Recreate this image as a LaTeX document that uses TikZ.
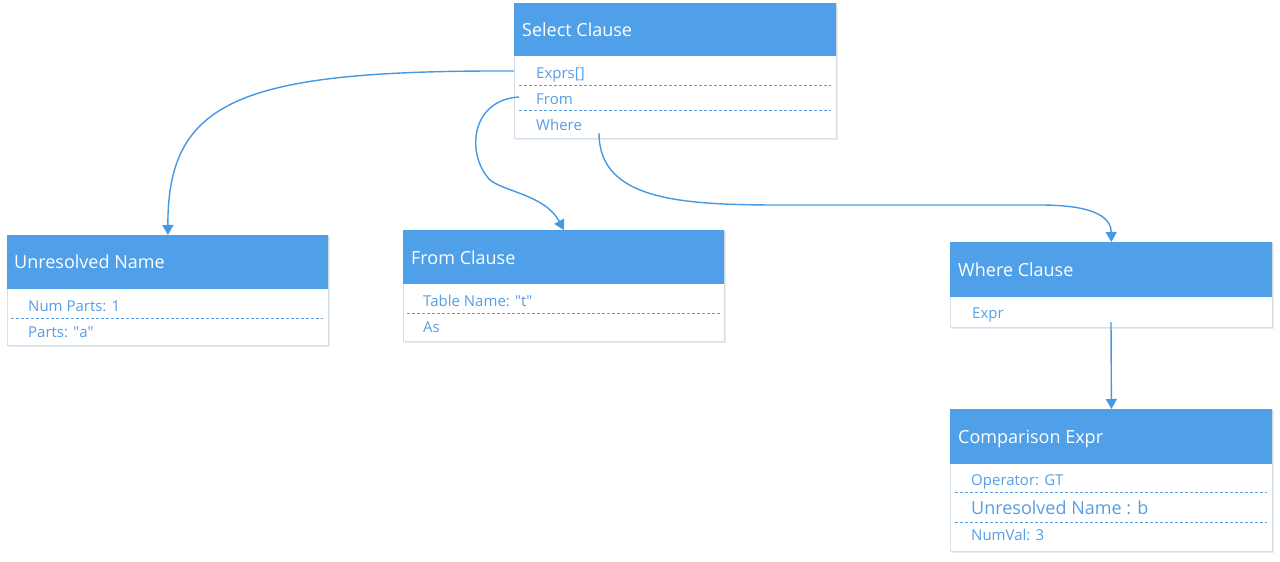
\documentclass[tikz,border=0pt]{standalone}
\usepackage{fontspec}
\setmainfont{Open Sans}
\usetikzlibrary{arrows.meta,shadows}
\definecolor{hdrblue}{RGB}{79,160,232}
\definecolor{txtblue}{RGB}{86,158,230}
\definecolor{lineblue}{RGB}{70,152,226}
\definecolor{edgegray}{RGB}{214,222,232}
\definecolor{shadowc}{RGB}{175,198,222}
\tikzset{
 box/.style={draw=edgegray, line width=0.8pt, fill=white, anchor=north west, inner sep=0pt,
   drop shadow={shadow xshift=1.5pt, shadow yshift=-1.5pt, opacity=0.35, fill=shadowc}},
 hdr/.style={fill=hdrblue, anchor=north west, inner sep=0pt},
 htext/.style={anchor=base west, text=white, font=\fontsize{18}{20}\selectfont, inner sep=0pt},
 rowtext/.style={anchor=base west, text=txtblue, font=\fontsize{15}{18}\selectfont, inner sep=0pt},
 bigrow/.style={rowtext, font=\fontsize{18}{20}\selectfont},
 sepline/.style={draw=txtblue, line width=1pt, dash pattern=on 3pt off 2pt},
 link/.style={draw=lineblue, line width=1.4pt, -{Triangle[length=10pt,width=11pt]}},
}
\begin{document}
\begin{tikzpicture}[x=1pt,y=-1pt]
\useasboundingbox (0,0) rectangle (1280,562);

% Select Clause
\node[box, minimum width=322pt, minimum height=135pt] (scbox) at (514,3) {};
\node[hdr, minimum width=322pt, minimum height=53pt] (schdr) at (514,3) {};
\node[htext] (sct) at (522,36) {Select Clause};
\node[rowtext] (exprs) at (536,78) {Exprs[]};
\node[rowtext] (fromrow) at (536,104) {From};
\node[rowtext] (whererow) at (536,130) {Where};
\draw[sepline] (519,85) -- (831,85);
\draw[sepline] (519,110) -- (831,110);

% Unresolved Name
\node[box, minimum width=321pt, minimum height=110pt] (unbox) at (7,235) {};
\node[hdr, minimum width=321pt, minimum height=54pt] (unhdr) at (7,235) {};
\node[htext] (unt) at (14,268) {Unresolved Name};
\node[rowtext] (numparts) at (28,311) {Num Parts: 1};
\node[rowtext] (parts) at (28,337) {Parts: \textquotedbl a\textquotedbl};
\draw[sepline] (11,318) -- (323,318);

% From Clause
\node[box, minimum width=321pt, minimum height=111pt] (fcbox) at (403,230) {};
\node[hdr, minimum width=321pt, minimum height=54pt] (fchdr) at (403,230) {};
\node[htext] (fct) at (411,264) {From Clause};
\node[rowtext] (tname) at (423,306) {Table Name: \textquotedbl t\textquotedbl};
\node[rowtext] (asrow) at (423,332) {As};
\draw[sepline] (407,313) -- (720,313);

% Where Clause
\node[box, minimum width=322pt, minimum height=85pt] (wcbox) at (950,242) {};
\node[hdr, minimum width=322pt, minimum height=55pt] (wchdr) at (950,242) {};
\node[htext] (wct) at (958,276) {Where Clause};
\node[rowtext] (exprrow) at (972,318) {Expr};

% Comparison Expr
\node[box, minimum width=322pt, minimum height=142pt] (cebox) at (950,409) {};
\node[hdr, minimum width=322pt, minimum height=55pt] (cehdr) at (950,409) {};
\node[htext] (cet) at (958,443) {Comparison Expr};
\node[rowtext] (oprow) at (971,485) {Operator: GT};
\node[bigrow] (unb) at (971,514) {Unresolved Name : b};
\node[rowtext] (numval) at (971,540) {NumVal: 3};
\draw[sepline] (955,492) -- (1267,492);
\draw[sepline] (955,522) -- (1267,522);

% connector start points
\coordinate (exprsout) at (514,71);
\coordinate (fromout) at (519,97);
\coordinate (whereout) at (599,133);
\coordinate (exprout) at (1111,322);

\draw[link] (exprsout) .. controls (240,70) and (167.5,100) .. (unbox.north);
\draw[link] (fromout) .. controls (470,100) and (466,155) .. (490,180)
  .. controls (505,192) and (545,195) .. (fcbox.north);
\draw[link] (whereout) .. controls (599,200) and (680,205) .. (780,205) -- (1040,205)
  .. controls (1100,205) and (1111,220) .. (wcbox.north);
\draw[link] (exprout) -- (cebox.north);
\end{tikzpicture}
\end{document}
